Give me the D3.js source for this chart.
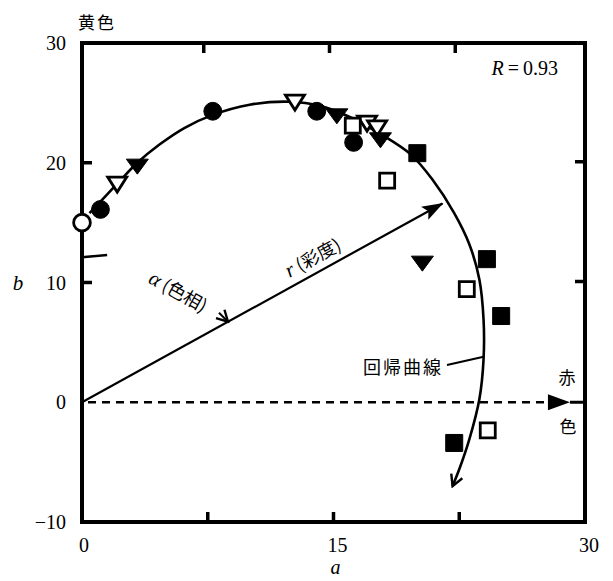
<!DOCTYPE html>
<html>
<head>
<meta charset="utf-8">
<script src="https://cdn.jsdelivr.net/npm/d3@7"></script>
<style>
  body { margin: 0; background: #fff; }
  svg { display: block; }
  .serif { font-family: "Liberation Serif", "DejaVu Serif", serif; }
  .cjk { font-family: "Noto Sans CJK JP", "Noto Sans CJK SC", sans-serif; }
</style>
</head>
<body>
<script>
// ----- datos (a, b) -----
var circulosLlenos   = [[1.1, 16.1], [7.8, 24.3], [14.0, 24.3], [16.2, 21.7]];
var circulosVacios   = [[0.0, 15.0]];
var triangulosLlenos = [[3.3, 19.8], [15.2, 24.0], [17.8, 22.0], [20.3, 11.7]];
var triangulosVacios = [[2.1, 18.3], [12.7, 25.15], [17.0, 23.4], [17.6, 23.0]];
var cuadradosLlenos  = [[20.0, 20.8], [24.15, 11.95], [25.0, 7.2], [22.2, -3.4]];
var cuadradosVacios  = [[16.15, 23.1], [18.2, 18.5], [22.95, 9.45], [24.2, -2.35]];

// curva de regresión (trazada a mano en el original)
var curvaRegresion = [
  [0.45, 15.8], [2.1, 18.25], [3.3, 20.0], [4.6, 21.5], [6.1, 22.9], [7.8, 24.0],
  [10.0, 24.85], [12.4, 25.1], [14.2, 24.75], [16.0, 23.8], [17.8, 22.4],
  [19.6, 20.7], [20.9, 18.6], [22.2, 15.8], [23.1, 13.2], [23.7, 10.25],
  [23.95, 6.9], [23.95, 3.6], [23.7, 0.25], [23.1, -3.1], [22.5, -5.6], [22.1, -7.0]
];

var ticksX = [0, 15, 30];
var ticksXMenores = [7.5, 15, 22.5];
var ticksY = [30, 20, 10, 0, -10];
var ticksYMenores = [20, 10];
var flechaCroma = [21.5, 16.6];   // extremo de la flecha r
var coeficiente = "0.93";

var ancho = 613, alto = 581;
var svg = d3.select("body").append("svg")
  .attr("width", ancho)
  .attr("height", alto);

var x = d3.scaleLinear().domain([0, 30]).range([82, 585]);
var y = d3.scaleLinear().domain([-10, 30]).range([522, 43]);

// marcadores de flecha
var defs = svg.append("defs");
defs.append("marker")
  .attr("id", "punta")
  .attr("viewBox", "0 0 20 14")
  .attr("refX", 19).attr("refY", 7)
  .attr("markerUnits", "userSpaceOnUse")
  .attr("markerWidth", 22).attr("markerHeight", 15)
  .attr("orient", "auto")
  .append("path")
  .attr("d", "M0,0 L20,7 L0,14 L4,7 Z")
  .attr("fill", "#000");
defs.append("marker")
  .attr("id", "abierta")
  .attr("viewBox", "-12 -8 14 16")
  .attr("refX", 0).attr("refY", 0)
  .attr("markerUnits", "userSpaceOnUse")
  .attr("markerWidth", 14).attr("markerHeight", 16)
  .attr("orient", "auto")
  .append("path")
  .attr("d", "M-11,-6 L0,0 L-11,6")
  .attr("fill", "none")
  .attr("stroke", "#000")
  .attr("stroke-width", 2.4);

// marco
svg.append("rect")
  .attr("x", x(0)).attr("y", y(30))
  .attr("width", x(30) - x(0)).attr("height", y(-10) - y(30))
  .attr("fill", "none").attr("stroke", "#000").attr("stroke-width", 4);

// marcas de los ejes
ticksXMenores.forEach(function(t) {
  svg.append("line").attr("x1", x(t)).attr("x2", x(t)).attr("y1", y(-10)).attr("y2", y(-10) - 10)
    .attr("stroke", "#000").attr("stroke-width", 3.5);
  svg.append("line").attr("x1", x(t) - 4).attr("x2", x(t) - 4).attr("y1", y(30)).attr("y2", y(30) + 10)
    .attr("stroke", "#000").attr("stroke-width", 3.5);
});
ticksYMenores.forEach(function(t) {
  svg.append("line").attr("x1", x(0)).attr("x2", x(0) + 10).attr("y1", y(t)).attr("y2", y(t))
    .attr("stroke", "#000").attr("stroke-width", 3.5);
  svg.append("line").attr("x1", x(30)).attr("x2", x(30) - 10).attr("y1", y(t) - 1).attr("y2", y(t) - 1)
    .attr("stroke", "#000").attr("stroke-width", 3.5);
});
// marca suelta junto al eje b
svg.append("line").attr("x1", x(0)).attr("x2", x(1.5)).attr("y1", y(12.1)).attr("y2", y(12.3))
  .attr("stroke", "#000").attr("stroke-width", 2.5);

// etiquetas de los ejes
svg.selectAll("text.ty").data(ticksY).enter().append("text")
  .attr("class", "ty serif")
  .attr("x", 66).attr("y", function(d) { return y(d); })
  .attr("dy", "0.35em")
  .attr("text-anchor", "end")
  .attr("font-size", 20)
  .text(function(d) { return d < 0 ? "\u2212" + Math.abs(d) : d; });
svg.selectAll("text.tx").data(ticksX).enter().append("text")
  .attr("class", "tx serif")
  .attr("x", function(d) { return x(d) + (d === 0 ? 2 : 4); }).attr("y", 552)
  .attr("text-anchor", "middle")
  .attr("font-size", 20)
  .text(function(d) { return d; });
svg.append("text").attr("class", "serif").attr("x", 18).attr("y", y(10) + 7)
  .attr("text-anchor", "middle").attr("font-style", "italic").attr("font-size", 21)
  .text("b");
svg.append("text").attr("class", "serif").attr("x", x(15) + 2).attr("y", 574)
  .attr("text-anchor", "middle").attr("font-style", "italic").attr("font-size", 20)
  .text("a");
svg.append("text").attr("class", "cjk").attr("x", 78).attr("y", 29)
  .attr("font-size", 17).attr("letter-spacing", 2)
  .text("黄色");
var rt = svg.append("text").attr("class", "serif").attr("x", 558).attr("y", 75).attr("text-anchor", "end")
  .attr("font-size", 20);
rt.append("tspan").attr("font-style", "italic").text("R");
rt.append("tspan").text("\u2009=\u2009" + coeficiente);

// línea a = eje rojo (discontinua)
var xFlecha = 29.1;
svg.append("line")
  .attr("x1", x(0) + 6).attr("y1", y(0))
  .attr("x2", x(xFlecha) - 18).attr("y2", y(0))
  .attr("stroke", "#000").attr("stroke-width", 2.6)
  .attr("stroke-dasharray", "8,6");
svg.append("path")
  .attr("d", "M" + (x(xFlecha) - 22) + "," + (y(0) - 8) + " L" + x(xFlecha) + "," + y(0) +
             " L" + (x(xFlecha) - 22) + "," + (y(0) + 8) + " Z")
  .attr("fill", "#000");
svg.append("line").attr("x1", x(xFlecha)).attr("x2", x(30)).attr("y1", y(0)).attr("y2", y(0))
  .attr("stroke", "#000").attr("stroke-width", 3);
svg.append("text").attr("class", "cjk").attr("x", 567).attr("y", 384).attr("text-anchor", "middle")
  .attr("font-size", 17).text("赤");
svg.append("text").attr("class", "cjk").attr("x", 568).attr("y", 433).attr("text-anchor", "middle")
  .attr("font-size", 17).text("色");

// flecha r (croma)
svg.append("line")
  .attr("x1", x(0)).attr("y1", y(0))
  .attr("x2", x(flechaCroma[0])).attr("y2", y(flechaCroma[1]))
  .attr("stroke", "#000").attr("stroke-width", 2.2)
  .attr("marker-end", "url(#punta)");

// pequeña flecha del ángulo α
var fr = 0.405;
var px = x(flechaCroma[0] * fr), py = y(flechaCroma[1] * fr);
svg.append("line")
  .attr("x1", px - 9).attr("y1", py - 9).attr("x2", px).attr("y2", py)
  .attr("stroke", "#000").attr("stroke-width", 2)
  .attr("marker-end", "url(#abierta)");

// etiquetas giradas
var angR = Math.atan2(y(flechaCroma[1]) - y(0), x(flechaCroma[0]) - x(0)) * 180 / Math.PI;
var tr = svg.append("text")
  .attr("transform", "translate(313,258) rotate(" + angR + ")")
  .attr("text-anchor", "middle").attr("dy", "0.35em").attr("font-size", 18);
tr.append("tspan").attr("class", "serif").attr("font-style", "italic").attr("font-size", 21).text("r");
tr.append("tspan").attr("class", "cjk").text(" (彩度)");
var ta = svg.append("text")
  .attr("transform", "translate(178,292) rotate(29)")
  .attr("text-anchor", "middle").attr("dy", "0.35em").attr("font-size", 18);
ta.append("tspan").attr("class", "serif").attr("font-style", "italic").attr("font-size", 21).text("α");
ta.append("tspan").attr("class", "cjk").text(" (色相)");

// curva de regresión
var linea = d3.line()
  .x(function(d) { return x(d[0]); })
  .y(function(d) { return y(d[1]); })
  .curve(d3.curveCatmullRom.alpha(0.5));
svg.append("path")
  .datum(curvaRegresion)
  .attr("d", linea)
  .attr("fill", "none").attr("stroke", "#000").attr("stroke-width", 2.6)
  .attr("marker-end", "url(#abierta)");
svg.append("line").attr("x1", 447).attr("y1", 365).attr("x2", x(23.95)).attr("y2", y(3.8))
  .attr("stroke", "#000").attr("stroke-width", 2);
svg.append("text").attr("class", "cjk").attr("x", 363).attr("y", 374)
  .attr("font-size", 18).attr("letter-spacing", 2)
  .text("回帰曲線");

// puntos
function dibujar(datos, forma, lleno) {
  var g = svg.append("g");
  var sel = g.selectAll("path").data(datos).enter().append("path")
    .attr("transform", function(d) { return "translate(" + x(d[0]) + "," + y(d[1]) + ")"; })
    .attr("fill", lleno ? "#000" : "#fff")
    .attr("stroke", "#000")
    .attr("stroke-width", lleno ? 1 : 2.8);
  if (forma === "circulo") {
    sel.attr("d", d3.symbol().type(d3.symbolCircle).size(lleno ? 250 : 220));
  } else if (forma === "cuadrado") {
    var s = lleno ? 8.5 : 7.5;
    sel.attr("d", "M" + -s + "," + -s + "H" + s + "V" + s + "H" + -s + "Z");
  } else {
    var w = lleno ? 11 : 9.5;
    sel.attr("d", "M" + -w + ",-6 L" + w + ",-6 L0,9 Z");
  }
}
dibujar(circulosVacios, "circulo", false);
dibujar(circulosLlenos, "circulo", true);
dibujar(triangulosVacios, "triangulo", false);
dibujar(triangulosLlenos, "triangulo", true);
dibujar(cuadradosVacios, "cuadrado", false);
dibujar(cuadradosLlenos, "cuadrado", true);
</script>
</body>
</html>
